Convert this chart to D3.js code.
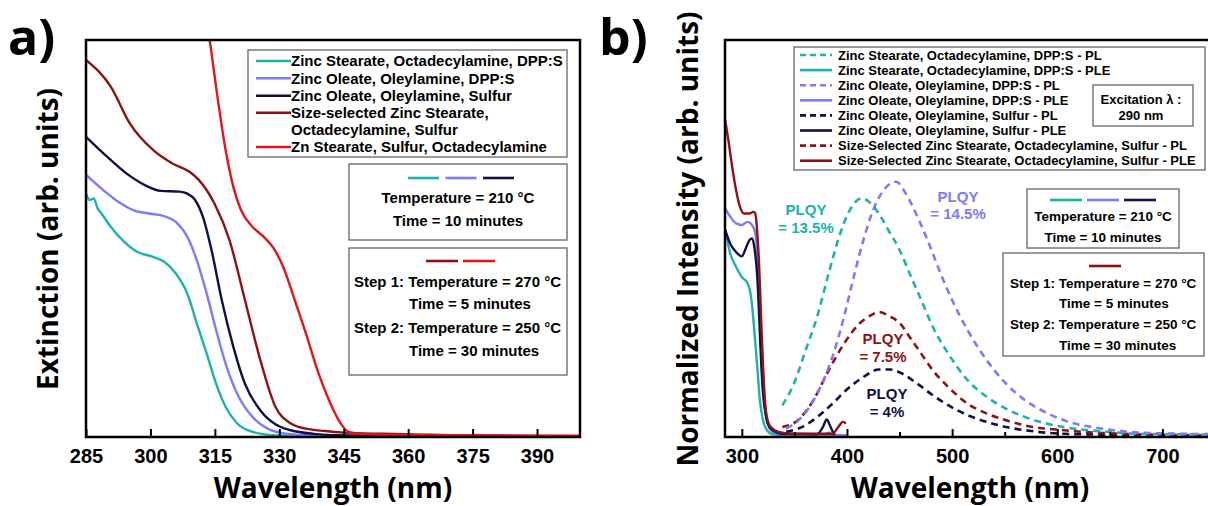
<!DOCTYPE html>
<html>
<head>
<meta charset="utf-8">
<script src="https://cdn.jsdelivr.net/npm/d3@7"></script>
<style>
body { margin: 0; background: #fff; }
svg { display: block; }
</style>
</head>
<body>
<svg id="chart" width="1208" height="506"></svg>
<script>
// ---- data ----
// panel a: extinction, [wavelength nm, arb. value]
const extZsOdaDpps = [[285,0.613],[285.9,0.597],[286.8,0.601],[287.7,0.576],[288.6,0.563],[290.8,0.529],[293.5,0.496],[297.0,0.466],[300.6,0.454],[303.3,0.441],[305.9,0.412],[308.6,0.361],[310.8,0.286],[313.1,0.210],[315.3,0.134],[317.5,0.076],[320.2,0.034],[323.8,0.013],[329.1,0.004],[336.2,0.002],[371.9,0.004],[376.4,0.005],[380.8,0.003],[400,0.001]];
const extZoOlaDpps = [[285,0.660],[289.0,0.622],[292.6,0.592],[296.1,0.571],[299.7,0.563],[303.3,0.556],[305.9,0.542],[308.6,0.504],[310.8,0.445],[313.1,0.361],[315.3,0.269],[317.5,0.185],[320.2,0.109],[323.8,0.050],[327.3,0.021],[331.8,0.008],[338.0,0.004],[354.1,0.003],[400,0.002]];
const extZoOlaS = [[285,0.756],[289.9,0.706],[294.4,0.664],[298.8,0.634],[302.4,0.620],[306.8,0.618],[308.6,0.613],[310.4,0.597],[312.2,0.555],[314.4,0.462],[316.6,0.345],[319.3,0.227],[322.0,0.134],[325.6,0.067],[329.1,0.032],[332.7,0.017],[338.0,0.008],[345.2,0.004],[354.1,0.003],[400,0.001]];
const extSizeSel = [[285,0.950],[290.8,0.882],[295.2,0.790],[300.6,0.723],[305.1,0.689],[309.1,0.668],[311.3,0.647],[314.9,0.588],[318.4,0.496],[322.0,0.345],[325.6,0.193],[329.1,0.076],[332.7,0.034],[336.2,0.021],[340.7,0.015],[345.2,0.011],[354.1,0.008],[363.0,0.006],[371.9,0.004],[380.8,0.003],[389.7,0.002],[400,0.001]];
const extZnStSOda = [[312.6,1.10],[313.8,1.0],[315.7,0.849],[317.5,0.723],[319.3,0.630],[321.1,0.571],[323.8,0.529],[326.4,0.504],[328.7,0.475],[330.9,0.429],[333.6,0.345],[336.2,0.261],[338.9,0.168],[341.6,0.092],[344.3,0.034],[346.1,0.013],[349.6,0.007],[358.5,0.005],[400,0.003]];

// panel b: PLE (solid) and PL (dashed), normalized
const pleSizeSel = [[284.2,0.798],[287.2,0.748],[290.8,0.681],[294.5,0.622],[298.2,0.580],[301.8,0.563],[307.3,0.563],[311.0,0.567],[312.8,0.563],[314.7,0.513],[316.5,0.429],[318.3,0.303],[320.2,0.176],[322.0,0.092],[323.9,0.050],[327.5,0.025],[334.9,0.013],[349.5,0.008],[375.2,0.008],[386.2,0.008],[391.7,0.025],[396.1,0.038],[399.1,0.034]];
const pleZoOlaDpps = [[284.2,0.576],[289.0,0.555],[294.5,0.538],[300,0.534],[305.5,0.542],[309.2,0.536],[312.8,0.513],[314.7,0.462],[316.5,0.370],[318.3,0.261],[320.2,0.160],[322.0,0.076],[324.6,0.034],[329.4,0.013],[342.2,0.006],[371.6,0.004],[386.2,0.006],[400.9,0.004]];
const pleZoOlaS = [[284.2,0.521],[289.0,0.487],[294.5,0.466],[300,0.455],[303.7,0.475],[307.3,0.496],[309.9,0.500],[312.1,0.475],[314.7,0.403],[316.5,0.303],[318.3,0.193],[320.2,0.109],[323.1,0.050],[327.5,0.021],[338.5,0.008],[371.6,0.007],[377.1,0.025],[380.7,0.044],[384.4,0.025],[388.1,0.004]];
const pleZsOdaDpps = [[284.2,0.521],[289.0,0.462],[294.5,0.429],[300,0.403],[305.5,0.387],[309.2,0.345],[312.1,0.261],[314.7,0.176],[317.2,0.092],[320.2,0.042],[323.9,0.017],[329.4,0.007],[349.5,0.004],[378.9,0.006],[382.6,0.011],[386.2,0.004]];
const plZsOdaDpps = [[338.5,0.080],[349.5,0.134],[360.6,0.218],[371.6,0.303],[382.6,0.412],[393.6,0.513],[404.6,0.580],[413.8,0.601],[422.9,0.588],[432.1,0.555],[439.4,0.521],[448.6,0.479],[459.6,0.412],[470.6,0.345],[481.7,0.277],[496.3,0.210],[514.7,0.143],[533.0,0.101],[551.4,0.071],[569.7,0.050],[588.1,0.035],[606.4,0.025],[643.1,0.014],[679.8,0.008],[750,0.006]];
const plZoOlaDpps = [[342.2,0.021],[356.9,0.050],[371.6,0.109],[386.2,0.202],[397.2,0.303],[406.4,0.403],[415.6,0.496],[424.8,0.571],[433.9,0.618],[446.8,0.643],[456.0,0.613],[467.0,0.555],[478.0,0.487],[489.0,0.412],[500.0,0.345],[514.7,0.269],[533.0,0.193],[551.4,0.134],[569.7,0.092],[588.1,0.063],[606.4,0.042],[643.1,0.021],[679.8,0.011],[750,0.007]];
const plSizeSel = [[338.5,0.025],[353.2,0.042],[367.9,0.092],[382.6,0.168],[397.2,0.235],[411.9,0.286],[422.9,0.307],[430.3,0.315],[441.3,0.303],[450.5,0.286],[459.6,0.252],[470.6,0.210],[481.7,0.168],[496.3,0.126],[514.7,0.084],[533.0,0.059],[551.4,0.042],[569.7,0.029],[606.4,0.017],[643.1,0.010],[750,0.004]];
const plZoOlaS = [[342.2,0.013],[356.9,0.025],[371.6,0.050],[386.2,0.084],[400.9,0.122],[415.6,0.151],[430.3,0.170],[441.3,0.170],[452.3,0.160],[467.0,0.134],[481.7,0.105],[496.3,0.080],[514.7,0.055],[533.0,0.038],[551.4,0.025],[569.7,0.017],[606.4,0.008],[750,0.003]];

const leftTicks = [285, 300, 315, 330, 345, 360, 375, 390];
const rightTicks = [300, 400, 500, 600, 700];
const rightMinorTicks = [350, 450, 550, 650];

const legendA = ['Zinc Stearate, Octadecylamine, DPP:S', 'Zinc Oleate, Oleylamine, DPP:S',
    'Zinc Oleate, Oleylamine, Sulfur', 'Size-selected Zinc Stearate,', 'Octadecylamine, Sulfur',
    'Zn Stearate, Sulfur, Octadecylamine'];
const legendB = ['Zinc Stearate, Octadecylamine, DPP:S - PL', 'Zinc Stearate, Octadecylamine, DPP:S - PLE',
    'Zinc Oleate, Oleylamine, DPP:S - PL', 'Zinc Oleate, Oleylamine, DPP:S - PLE',
    'Zinc Oleate, Oleylamine, Sulfur - PL', 'Zinc Oleate, Oleylamine, Sulfur - PLE',
    'Size-Selected Zinc Stearate, Octadecylamine, Sulfur - PL', 'Size-Selected Zinc Stearate, Octadecylamine, Sulfur - PLE'];
const plqyLabels = [['PLQY', '= 13.5%'], ['PLQY', '= 14.5%'], ['PLQY', '= 7.5%'], ['PLQY', '= 4%']];

// ---- styles ----
const col = { teal: '#1db3ad', blue: '#7b7bfb', navy: '#10104a', darkred: '#8e1212', red: '#e3151b' };
const FONT = '"Liberation Sans", Arial, sans-serif';
const TFONT = '"Open Sans", sans-serif';
const DASH = '7,5';

const svg = d3.select('#chart');

function panel(x0, x1, y0, y1, domainX, id) {
    const x = d3.scaleLinear().domain(domainX).range([x0, x1]);
    const y = d3.scaleLinear().domain([0, 1]).range([y1, y0]);
    svg.append('clipPath').attr('id', id).append('rect')
        .attr('x', x0).attr('y', y0).attr('width', x1 - x0).attr('height', y1 - y0);
    return { x, y, clip: `url(#${id})` };
}

function drawLine(p, data, color, dashed) {
    const line = d3.line().x(d => p.x(d[0])).y(d => p.y(d[1])).curve(d3.curveMonotoneX);
    svg.append('path').attr('d', line(data))
        .attr('fill', 'none').attr('stroke', color).attr('stroke-width', dashed ? 2.6 : 2.4)
        .attr('stroke-dasharray', dashed ? DASH : null)
        .attr('clip-path', p.clip);
}

function drawFrame(x0, x1, y0, y1) {
    svg.append('rect').attr('x', x0).attr('y', y0).attr('width', x1 - x0).attr('height', y1 - y0)
        .attr('fill', 'none').attr('stroke', '#000').attr('stroke-width', 2.5);
}

function styleAxis(g) {
    g.select('.domain').remove();
    g.selectAll('line').attr('stroke', '#000').attr('stroke-width', 2);
    g.selectAll('text').attr('font-family', FONT).attr('font-weight', 'bold')
        .attr('font-size', 20).attr('fill', '#000');
}

function box(x0, y0, x1, y1) {
    svg.append('rect').attr('x', x0).attr('y', y0).attr('width', x1 - x0).attr('height', y1 - y0)
        .attr('fill', '#fff').attr('stroke', '#7a7a7a').attr('stroke-width', 1.5);
}

function text(x, y, str, size, anchor, color) {
    return svg.append('text').attr('x', x).attr('y', y).attr('dy', '0.35em')
        .attr('font-family', FONT).attr('font-weight', 'bold').attr('font-size', size)
        .attr('text-anchor', anchor || 'start').attr('fill', color || '#000').text(str);
}

function seg(x0, x1, y, color, dashed) {
    svg.append('line').attr('x1', x0).attr('x2', x1).attr('y1', y).attr('y2', y)
        .attr('stroke', color).attr('stroke-width', 2.6)
        .attr('stroke-dasharray', dashed ? '6,4' : null);
}

// ---- panel a ----
const pa = panel(86, 580, 40, 437, [285, 400], 'clipA');
drawLine(pa, extZsOdaDpps, col.teal);
drawLine(pa, extZoOlaDpps, col.blue);
drawLine(pa, extZoOlaS, col.navy);
drawLine(pa, extSizeSel, col.darkred);
drawLine(pa, extZnStSOda, col.red);

const axA = svg.append('g').attr('transform', 'translate(0,437)')
    .call(d3.axisBottom(pa.x).tickValues(leftTicks).tickSizeInner(-8).tickSizeOuter(0).tickPadding(12));
styleAxis(axA);
drawFrame(86, 580, 40, 437);

// legend a
box(248, 50, 567, 157);
const legAColors = [col.teal, col.blue, col.navy, col.darkred, null, col.red];
const legAY = [61, 78.3, 95.7, 112.7, 130, 147];
legendA.forEach((s, i) => {
    if (legAColors[i]) seg(256, 291, legAY[i], legAColors[i]);
    text(291, legAY[i], s, 15);
});

box(349, 164, 567, 240);
[col.teal, col.blue, col.navy].forEach((c, i) => seg(408 + i * 37.5, 439 + i * 37.5, 178, c));
text(458, 198, 'Temperature = 210 °C', 15, 'middle');
text(458, 221, 'Time = 10 minutes', 15, 'middle');

box(349, 248, 567, 375);
[col.darkred, col.red].forEach((c, i) => seg(426 + i * 37, 458 + i * 37, 261, c));
text(354, 282, 'Step 1: Temperature = 270 °C', 15);
text(409, 304, 'Time = 5 minutes', 15);
text(354, 328, 'Step 2: Temperature = 250 °C', 15);
text(409, 351, 'Time = 30 minutes', 15);

// ---- panel b ----
const pb = panel(725, 1215, 40, 437, [284, 750], 'clipB');
drawLine(pb, pleZsOdaDpps, col.teal);
drawLine(pb, pleZoOlaDpps, col.blue);
drawLine(pb, pleZoOlaS, col.navy);
drawLine(pb, pleSizeSel, col.darkred);
drawLine(pb, plZoOlaS, col.navy, true);
drawLine(pb, plSizeSel, col.darkred, true);
drawLine(pb, plZsOdaDpps, col.teal, true);
drawLine(pb, plZoOlaDpps, col.blue, true);

const axB = svg.append('g').attr('transform', 'translate(0,437)')
    .call(d3.axisBottom(pb.x).tickValues(rightTicks).tickSizeInner(-8).tickSizeOuter(0).tickPadding(12));
styleAxis(axB);
const axBm = svg.append('g').attr('transform', 'translate(0,437)')
    .call(d3.axisBottom(pb.x).tickValues(rightMinorTicks).tickSizeInner(-5).tickSizeOuter(0).tickFormat(''));
styleAxis(axBm);
drawFrame(725, 1215, 40, 437);

// legend b
box(794, 47, 1205, 170);
const legBColors = [col.teal, col.teal, col.blue, col.blue, col.navy, col.navy, col.darkred, col.darkred];
legendB.forEach((s, i) => {
    const yy = 55 + i * 15.1;
    seg(800, 832, yy, legBColors[i], i % 2 === 0);
    text(838, yy, s, 13);
});

box(1093, 85, 1193, 126);
text(1141, 99, 'Excitation \u03bb :', 13, 'middle');
text(1141, 115, '290 nm', 13, 'middle');

box(1027, 189, 1179, 248);
[col.teal, col.blue, col.navy].forEach((c, i) => seg(1050 + i * 37, 1082 + i * 37, 200, c));
text(1103, 216, 'Temperature = 210 °C', 13.5, 'middle');
text(1103, 237, 'Time = 10 minutes', 13.5, 'middle');

box(1003, 253, 1204, 356);
seg(1089, 1121, 266, col.darkred);
text(1010, 283, 'Step 1: Temperature = 270 °C', 13.5);
text(1059, 303, 'Time = 5 minutes', 13.5);
text(1010, 324, 'Step 2: Temperature = 250 °C', 13.5);
text(1059, 345, 'Time = 30 minutes', 13.5);

// PLQY annotations
const plqyPos = [[806, 210, 228, col.teal], [958, 197, 214, col.blue], [883, 339, 357, col.darkred], [887, 394, 412, col.navy]];
plqyLabels.forEach((lab, i) => {
    const p = plqyPos[i];
    text(p[0], p[1], lab[0], 15, 'middle', p[3]);
    text(p[0], p[2], lab[1], 15, 'middle', p[3]);
});

// ---- titles ----
function title(x, y, str, size, rotate) {
    const t = svg.append('text').attr('font-family', TFONT).attr('font-weight', 700)
        .attr('font-size', size).attr('fill', '#000').attr('text-anchor', 'middle').text(str);
    if (rotate) t.attr('transform', `translate(${x},${y}) rotate(-90)`).attr('dy', '0.35em');
    else t.attr('x', x).attr('y', y);
    return t;
}
title(333, 498, 'Wavelength (nm)', 28);
title(970, 498, 'Wavelength (nm)', 28);
title(48, 239, 'Extinction (arb. units)', 28, true);
title(688, 239, 'Normalized Intensity (arb. units)', 28, true);

svg.append('text').attr('x', 8).attr('y', 55).attr('font-family', TFONT).attr('font-weight', 700)
    .attr('font-size', 50).text('a)');
svg.append('text').attr('x', 599).attr('y', 55).attr('font-family', TFONT).attr('font-weight', 700)
    .attr('font-size', 50).text('b)');
</script>
</body>
</html>
